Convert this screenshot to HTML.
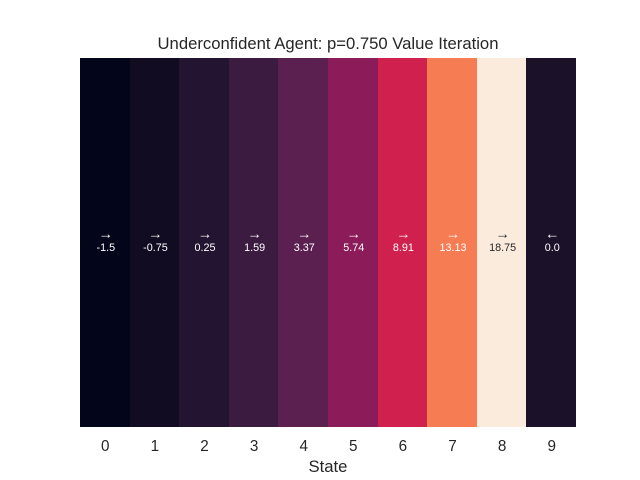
<!DOCTYPE html>
<html>
<head>
<meta charset="utf-8">
<title>Underconfident Agent: p=0.750 Value Iteration</title>
<style>
html,body{margin:0;padding:0;background:#fff;width:640px;height:480px;overflow:hidden}
svg{display:block}
text{font-family:"Liberation Sans",Arial,sans-serif}
</style>
</head>
<body>
<svg id="chart" width="640" height="480" viewBox="0 0 640 480" xmlns="http://www.w3.org/2000/svg">
  <rect x="0" y="0" width="640" height="480" fill="#ffffff"/>
  <text x="328" y="49" text-anchor="middle" font-size="16.67" fill="#262626">Underconfident Agent: p=0.750 Value Iteration</text>
  <g id="cells"></g>
  <g id="annotations"></g>
  <g id="ticks"></g>
  <text x="328" y="472" text-anchor="middle" font-size="16.67" fill="#262626">State</text>
</svg>
<script>
const states = ["0", "1", "2", "3", "4", "5", "6", "7", "8", "9"];
const values = [-1.5, -0.75, 0.25, 1.59, 3.37, 5.74, 8.91, 13.13, 18.75, 0.0];
const valueLabels = ["-1.5", "-0.75", "0.25", "1.59", "3.37", "5.74", "8.91", "13.13", "18.75", "0.0"];
const policy = ["→", "→", "→", "→", "→", "→", "→", "→", "→", "←"];

const plot = { left: 80, right: 576, top: 58, bottom: 427 };
const ramp = [
  [0, [3, 5, 26]], [0.037, [17, 12, 33]], [0.074, [27, 17, 41]], [0.086, [35, 20, 49]],
  [0.153, [60, 27, 65]], [0.24, [92, 32, 80]], [0.365, [142, 28, 90]], [0.52, [210, 32, 78]],
  [0.722, [246, 124, 83]], [1, [250, 235, 221]]
];
const svgNS = "http://www.w3.org/2000/svg";
const cellsGroup = document.getElementById("cells");
const annotationsGroup = document.getElementById("annotations");
const ticksGroup = document.getElementById("ticks");

const vMin = Math.min(...values);
const vMax = Math.max(...values);
const cellWidth = (plot.right - plot.left) / states.length;
const xScale = (i) => plot.left + i * cellWidth;
const yMiddle = (plot.top + plot.bottom) / 2;

function colorFor(value) {
  const t = (value - vMin) / (vMax - vMin);
  for (let i = 1; i < ramp.length; i++) {
    if (t <= ramp[i][0]) {
      const a = ramp[i - 1];
      const b = ramp[i];
      const f = (t - a[0]) / (b[0] - a[0]);
      return a[1].map((c, k) => Math.round(c + (b[1][k] - c) * f));
    }
  }
  return ramp[ramp.length - 1][1];
}

function luminance(rgb) {
  const lin = rgb.map((c) => {
    const s = c / 255;
    return s <= 0.03928 ? s / 12.92 : Math.pow((s + 0.055) / 1.055, 2.4);
  });
  return 0.2126 * lin[0] + 0.7152 * lin[1] + 0.0722 * lin[2];
}

states.forEach((state, i) => {
  const rgb = colorFor(values[i]);
  const x0 = Math.round(xScale(i));
  const x1 = Math.round(xScale(i + 1));
  const center = xScale(i + 0.5);
  const textColor = luminance(rgb) > 0.408 ? "#262626" : "#ffffff";

  const cell = document.createElementNS(svgNS, "rect");
  
  
  cell.setAttribute("x", x0);
  cell.setAttribute("y", plot.top);
  cell.setAttribute("width", x1 - x0);
  cell.setAttribute("height", plot.bottom - plot.top);
  cell.setAttribute("fill", "rgb(" + rgb.join(",") + ")");
  cell.setAttribute("shape-rendering", "crispEdges");
  cellsGroup.appendChild(cell);

  const arrow = document.createElementNS(svgNS, "text");
  
  
  arrow.setAttribute("x", center + 1);
  arrow.setAttribute("y", yMiddle - 4);
  arrow.setAttribute("text-anchor", "middle");
  arrow.setAttribute("font-size", "14.5");
  arrow.setAttribute("fill", textColor);
  arrow.textContent = policy[i];
  annotationsGroup.appendChild(arrow);

  const label = document.createElementNS(svgNS, "text");
  
  
  label.setAttribute("x", center + 1);
  label.setAttribute("y", yMiddle + 8.5);
  label.setAttribute("text-anchor", "middle");
  label.setAttribute("font-size", "10.8");
  label.setAttribute("fill", textColor);
  label.textContent = valueLabels[i];
  annotationsGroup.appendChild(label);

  const tick = document.createElementNS(svgNS, "text");
  
  
  tick.setAttribute("x", center + 0.5);
  tick.setAttribute("y", 451);
  tick.setAttribute("text-anchor", "middle");
  tick.setAttribute("font-size", "15.28");
  tick.setAttribute("fill", "#262626");
  tick.textContent = state;
  ticksGroup.appendChild(tick);
});
</script>
</body>
</html>
